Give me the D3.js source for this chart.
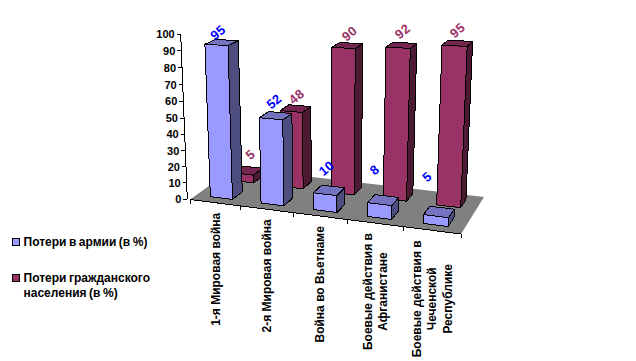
<!DOCTYPE html>
<html><head><meta charset="utf-8">
<script src="https://cdn.jsdelivr.net/npm/d3@7/dist/d3.min.js"></script>
<style>html,body{margin:0;padding:0;background:#fff}svg{display:block}text{font-family:"Liberation Sans",Arial,sans-serif}</style>
</head><body><svg id="c" width="636" height="361"></svg>
<script>
const categories = [["1-я Мировая война"],["2-я Мировая война"],["Война во Вьетнаме"],["Боевые действия в","Афганистане"],["Боевые действия в","Чеченской","Республике"]];
const seriesNames = [["Потери в армии (в %)"],["Потери гражданского","населения (в %)"]];
const armyLoss = [95,52,10,8,5];
const civilianLoss = [5,48,90,92,95];
const yTicks = [0,10,20,30,40,50,60,70,80,90,100];

const colors = [
 {front:"#9999FF",side:"#4D4D80",top:"#7373BF",label:"#0000FF"},
 {front:"#993366",side:"#4D1A33",top:"#732650",label:"#993366"}
];
const svg = d3.select("#c");
// floor quadrilateral in perspective
const Q = [[190,199.5],[461,234],[484,197],[234,168]];
const H = (()=>{const [[x0,y0],[x1,y1],[x2,y2],[x3,y3]]=Q;
 const dx1=x1-x2,dx2=x3-x2,sx=x0-x1+x2-x3,dy1=y1-y2,dy2=y3-y2,sy=y0-y1+y2-y3;
 const den=dx1*dy2-dx2*dy1,g=(sx*dy2-dx2*sy)/den,h=(dx1*sy-sx*dy1)/den;
 return {a:x1-x0+g*x1,b:x3-x0+h*x3,c:x0,d:y1-y0+g*y1,e:y3-y0+h*y3,f:y0,g,h};})();
const floorPt=(u,v)=>{const w=H.g*u+H.h*v+1;return [(H.a*u+H.b*v+H.c)/w,(H.d*u+H.e*v+H.f)/w];};
const up=(p,z)=>{const s=1.62+(p[0]-325)*.0002+(p[1]-195)*.004;
 return [p[0]+(p[0]-325)*.0005*z,p[1]-s*z];};
const xBand=d3.scaleBand().domain(d3.range(categories.length)).range([0,1]).paddingInner(.56).paddingOuter(.28);
const depth=d3.scaleBand().domain([0,1]).range([0,1]).paddingInner(.55).paddingOuter(.27);
const zVal=d3.scaleLinear().domain([0,100]).range([0,100]);
const axisY=d3.scaleLinear().domain([0,50,100]).range([199,118.3,34]);
const axisX=d3.scaleLinear().domain([0,100]).range([187.3,180.7]);

// floor
svg.append("polygon").attr("points",Q.join(" ")).attr("fill","#808080");
// front edge + ticks
const edge=svg.append("g").attr("stroke","#000").attr("fill","none").attr("shape-rendering","crispEdges");
edge.append("line").attr("x1",Q[0][0]).attr("y1",Q[0][1]).attr("x2",Q[1][0]).attr("y2",Q[1][1]);
d3.range(categories.length+1).forEach(i=>{const p=floorPt(i/categories.length,0);
 edge.append("line").attr("x1",p[0]).attr("y1",p[1]).attr("x2",p[0]).attr("y2",p[1]+4);});
// value axis
edge.append("line").attr("x1",axisX(0)).attr("y1",axisY(0)).attr("x2",axisX(100)).attr("y2",axisY(100));
yTicks.forEach(t=>{
 edge.append("line").attr("x1",axisX(t)-4).attr("x2",axisX(t)).attr("y1",axisY(t)).attr("y2",axisY(t));
 svg.append("text").attr("x",axisX(t)-6).attr("y",axisY(t)+4).attr("text-anchor","end")
  .attr("font-size",11).attr("font-weight","bold").text(t);
});
// bars
const series=[armyLoss,civilianLoss];
const labelOff=[[[-4,-10],[-2,-14],[-3,-22],[-9,-30],[-12,-35]],[[3,-16],[1,-12],[2,-12],[1,-14],[0,-13]]];
[1,0].forEach(s=>{
 const g=svg.append("g").attr("stroke","#000").attr("stroke-width",1).attr("stroke-linejoin","round").attr("shape-rendering","crispEdges");
 series[s].forEach((val,i)=>{
  const u0=xBand(i),u1=u0+xBand.bandwidth(),v0=depth(s),v1=v0+depth.bandwidth(),z=zVal(val);
  const a=floorPt(u0,v0),b=floorPt(u1,v0),c=floorPt(u1,v1),d=floorPt(u0,v1);
  const A=up(a,z),B=up(b,z),C=up(c,z),D=up(d,z);
  g.append("polygon").attr("points",[b,c,C,B].join(" ")).attr("fill",colors[s].side);
  g.append("polygon").attr("points",[a,b,B,A].join(" ")).attr("fill",colors[s].front);
  g.append("polygon").attr("points",[A,B,C,D].join(" ")).attr("fill",colors[s].top);
 });
});
// data labels
[1,0].forEach(s=>{
 series[s].forEach((val,i)=>{
  const u0=xBand(i),u1=u0+xBand.bandwidth(),v0=depth(s),v1=v0+depth.bandwidth();
  const T=up(floorPt((u0+u1)/2,(v0+v1)/2),zVal(val));
  svg.append("text").attr("transform",`translate(${T[0]+labelOff[s][i][0]},${T[1]+labelOff[s][i][1]}) rotate(-40)`)
   .attr("text-anchor","middle").attr("dy",".35em").attr("font-size",13).attr("font-weight","bold")
   .attr("letter-spacing",s?"0.5px":"0")
   .attr("fill",colors[s].label).text(val);
 });
});
// category labels
categories.forEach((lines,i)=>{
 const l=floorPt(i/categories.length,0),r=floorPt((i+1)/categories.length,0);
 const mx=(l[0]+r[0])/2,my=(l[1]+r[1])/2;
 const ts=lines.map((t,k)=>svg.append("text").attr("font-size",12).attr("font-weight","bold").attr("text-anchor","middle").attr("dy",".35em").text(t));
 const maxLen=d3.max(ts,t=>t.node().getComputedTextLength());
 ts.forEach((t,k)=>t.attr("transform",`translate(${mx+(k-(lines.length-1)/2)*15.6},${my+10+maxLen/2}) rotate(-90)`));
});
// legend
const legY=[242,278];
seriesNames.forEach((lines,s)=>{
 svg.append("rect").attr("x",12.5).attr("y",legY[s]-3.5).attr("width",7).attr("height",7).attr("fill",colors[s].front).attr("stroke","#000").attr("shape-rendering","crispEdges");
 lines.forEach((t,k)=>svg.append("text").attr("x",23.5).attr("y",legY[s]+4+k*15).attr("font-size",12).attr("font-weight","bold").attr("word-spacing","-0.8px").text(t));
});
</script></body></html>
